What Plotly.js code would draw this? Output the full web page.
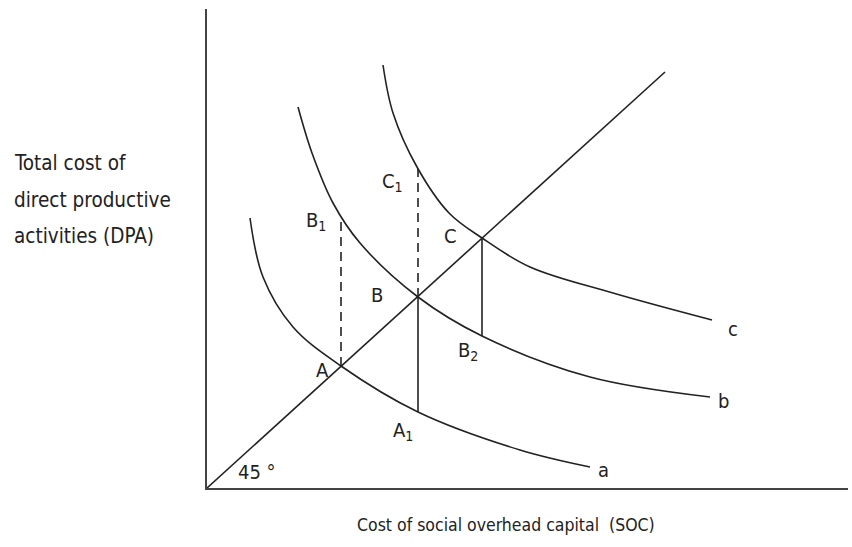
<!DOCTYPE html>
<html>
<head>
<meta charset="utf-8">
<script src="https://cdn.plot.ly/plotly-3.0.1.min.js"></script>
<style>html,body{margin:0;padding:0;background:#fff;}#chart{width:852px;height:547px;}</style>
</head>
<body>
<div id="chart"></div>
<script>
// Curve data
const curveAx = [4.3, 5.6, 8.6, 13.4, 21.1, 31.3, 38.3];
const curveAy = [27.0, 21.1, 16.1, 12.2, 7.6, 3.8, 2.1];
const curveBx = [9.1, 10.5, 12.6, 15.3, 21.1, 27.5, 38.3, 50.3];
const curveBy = [38.1, 33.5, 28.5, 24.5, 19.1, 15.2, 11.1, 9.1];
const curveCx = [17.6, 18.6, 21.0, 24.2, 27.5, 32.3, 40.6, 50.5];
const curveCy = [42.3, 37.5, 32.1, 27.5, 25.0, 22.1, 19.5, 16.8];
const diagX = [0, 45.8];
const diagY = [0, 41.6];
// Key points
const ptNames = ["A", "B", "C", "B1", "C1", "A1", "B2"];
const ptX = [13.4, 21.1, 27.5, 13.4, 21.1, 21.1, 27.5];
const ptY = [12.2, 19.1, 25.0, 27.1, 31.9, 7.6, 15.2];
// Label text and positions
const labelText = ["A", "B", "C", "B<sub>1</sub>", "C<sub>1</sub>", "A<sub>1</sub>", "B<sub>2</sub>", "45 °", "a", "b", "c"];
const labelX = [11.5, 17.0, 24.3, 10.9, 18.5, 19.6, 26.1, 5.0, 39.6, 51.6, 52.6];
const labelY = [11.8, 19.3, 25.2, 26.7, 30.6, 5.7, 13.7, 1.6, 1.8, 8.7, 15.9];
const yTitleLines = ["Total cost of", "direct productive", "activities (DPA)"];
const xTitle = "Cost of social overhead capital  (SOC)";

const P = (n) => ({x: ptX[ptNames.indexOf(n)], y: ptY[ptNames.indexOf(n)]});
const curveLine = {color: '#222', width: 1.6};
const traces = [
  {x: curveAx, y: curveAy, mode: 'lines', line: {...curveLine, shape: 'spline', smoothing: 1}},
  {x: curveBx, y: curveBy, mode: 'lines', line: {...curveLine, shape: 'spline', smoothing: 1}},
  {x: curveCx, y: curveCy, mode: 'lines', line: {...curveLine, shape: 'spline', smoothing: 1}},
  {x: diagX, y: diagY, mode: 'lines', line: curveLine},
  {x: [P('A').x, P('B1').x], y: [P('A').y, P('B1').y], mode: 'lines', line: {color: '#222', width: 1.6, dash: '9px,6px'}},
  {x: [P('B').x, P('C1').x], y: [P('B').y, P('C1').y], mode: 'lines', line: {color: '#222', width: 1.6, dash: '9px,6px'}},
  {x: [P('A1').x, P('B').x], y: [P('A1').y, P('B').y], mode: 'lines', line: curveLine},
  {x: [P('B2').x, P('C').x], y: [P('B2').y, P('C').y], mode: 'lines', line: curveLine}
];
const fontFam = '"DejaVu Sans Condensed", "Liberation Sans Narrow", Arial, sans-serif';
const annotations = labelText.map((t, i) => ({
  x: labelX[i], y: labelY[i], xref: 'x', yref: 'y', text: t, showarrow: false,
  font: {family: fontFam, size: 20, color: '#222'}, xanchor: 'center', yanchor: 'middle'
}));
const yLinePx = [163, 200, 236];
yTitleLines.forEach((t, i) => annotations.push({
  x: (12 - 207) / 641, y: (488 - yLinePx[i]) / 479, xref: 'paper', yref: 'paper', text: t,
  showarrow: false, xanchor: 'left', yanchor: 'middle', align: 'left',
  font: {family: fontFam, size: 20.5, color: '#222'}
}));
annotations.push({
  x: (506 - 207) / 641, y: (488 - 525) / 479, xref: 'paper', yref: 'paper', text: xTitle,
  showarrow: false, xanchor: 'center', yanchor: 'middle',
  font: {family: fontFam, size: 17.5, color: '#222'}
});
const axisCommon = {showgrid: false, zeroline: false, showticklabels: false, ticks: '',
  showline: true, linecolor: '#444', linewidth: 2, fixedrange: true};
const layout = {
  width: 852, height: 547, showlegend: false,
  margin: {l: 207, r: 4, t: 9, b: 59},
  paper_bgcolor: '#fff', plot_bgcolor: '#fff',
  xaxis: {...axisCommon, range: [0, 64.1]},
  yaxis: {...axisCommon, range: [0, 47.9]},
  annotations: annotations
};
Plotly.newPlot('chart', traces, layout, {displayModeBar: false, staticPlot: true});
</script>
</body>
</html>
